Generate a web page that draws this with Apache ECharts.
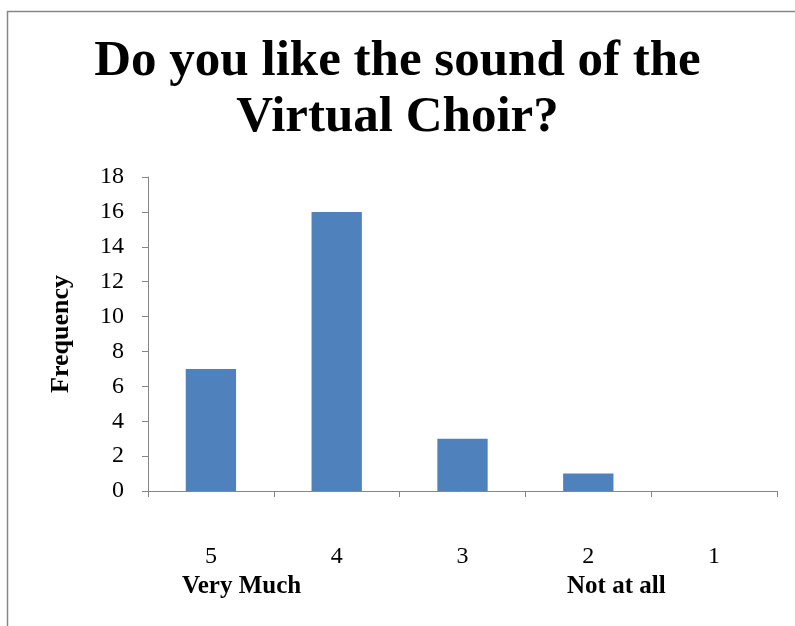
<!DOCTYPE html>
<html>
<head>
<meta charset="utf-8">
<script src="https://cdn.jsdelivr.net/npm/echarts@6/dist/echarts.min.js"></script>
<style>
html,body{margin:0;padding:0;background:#fff;}
#chart{width:795px;height:626px;}
</style>
</head>
<body>
<div id="chart"></div>
<script>
var titleText = "Do you like the sound of the\nVirtual Choir?";
var categories = ["5", "4", "3", "2", "1"];
var frequency = [7, 16, 3, 1, 0];
var yTicks = { min: 0, max: 18, interval: 2 };
var yAxisTitle = "Frequency";
var leftNote = "Very Much";
var rightNote = "Not at all";

var serif = "'Liberation Serif', 'DejaVu Serif', serif";
var chart = echarts.init(document.getElementById('chart'), null, { renderer: 'canvas' });
chart.setOption({
  backgroundColor: '#ffffff',
  animation: false,
  title: {
    text: titleText,
    left: 'center',
    top: 29,
    textStyle: { fontFamily: serif, fontWeight: 'bold', fontSize: 51, lineHeight: 56, color: '#000' }
  },
  grid: { left: 148, right: 18, top: 177, bottom: 135, containLabel: false },
  xAxis: {
    type: 'category',
    data: categories,
    axisLine: { lineStyle: { color: '#868686', width: 1 } },
    axisTick: { show: true, alignWithLabel: false, length: 6, lineStyle: { color: '#868686' } },
    axisLabel: { fontFamily: serif, fontSize: 24, color: '#000', margin: 54 }
  },
  yAxis: {
    type: 'value',
    min: yTicks.min, max: yTicks.max, interval: yTicks.interval,
    name: yAxisTitle,
    nameLocation: 'middle',
    nameRotate: 90,
    nameGap: 74,
    nameTextStyle: { fontFamily: serif, fontWeight: 'bold', fontSize: 26, color: '#000' },
    axisLine: { show: true, lineStyle: { color: '#868686', width: 1 } },
    axisTick: { show: true, length: 6, lineStyle: { color: '#868686' } },
    splitLine: { show: false },
    axisLabel: { fontFamily: serif, fontSize: 24, color: '#000', margin: 24 }
  },
  series: [{
    type: 'bar',
    data: frequency,
    barWidth: '40%',
    itemStyle: { color: '#4F81BD' }
  }],
  graphic: [
    { type: 'rect', silent: true, shape: { x: 7.5, y: 11.5, width: 1200, height: 1200 },
      style: { fill: 'none', stroke: '#868686', lineWidth: 1.5 }, z: -1 },
    { type: 'text', left: 182, top: 574,
      style: { text: leftNote, font: "bold 25px " + serif, fill: '#000' } },
    { type: 'text', left: 567, top: 574,
      style: { text: rightNote, font: "bold 25px " + serif, fill: '#000' } }
  ]
});
</script>
</body>
</html>
